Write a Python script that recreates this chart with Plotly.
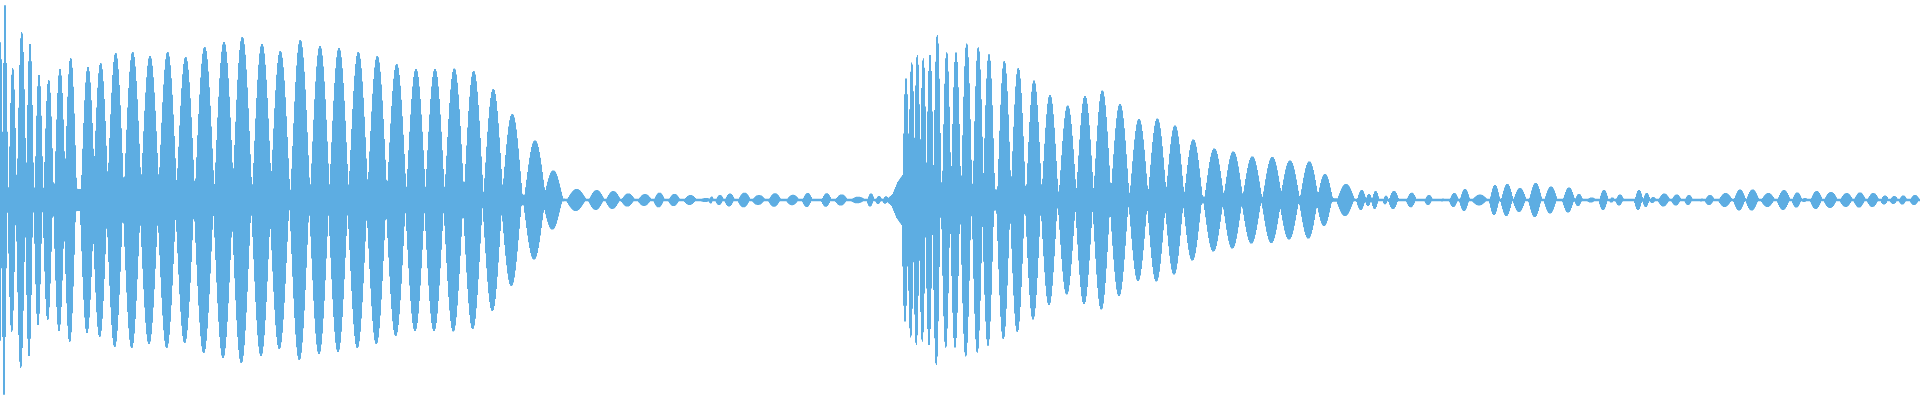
import numpy as np
import plotly.graph_objects as go

# ---- data (time in display columns, amplitude in 1/200 full scale) ----
lobe_time = [
    0.5, 5, 5, 12.7, 21.7, 30, 39, 48.7, 60, 70.7, 88, 100.7, 115.7, 132.7, 150, 167.7,
    185.7, 204.7, 224, 242.3, 262, 280.3, 300.3, 320, 339, 358.3, 377.3, 396.7, 416,
    435, 454.3, 473.7, 493.3, 512.3, 535, 553.3, 576.7, 596.7, 613.3, 628.3, 645,
    659.5, 674.5, 690.5, 706, 711.7, 720, 730, 744.5, 759, 775, 793, 807.7, 826.7,
    841.7, 858.3, 871, 879, 886,
    906, 911.7, 917.3, 923.3, 930, 937.3, 946.7, 956, 966.7, 978.3, 989, 1004.3,
    1018.3, 1034, 1050, 1067.7, 1085, 1102.3, 1120, 1139, 1157.3, 1175, 1193.3,
    1214.3, 1233.3, 1252.3, 1272.3, 1290, 1309.3, 1325, 1346, 1361.7, 1369, 1375.7,
    1386, 1394, 1411.7, 1429, 1443, 1454.3, 1465, 1480, 1495, 1507.3, 1520, 1535.7,
    1551, 1569, 1579, 1591.7, 1604, 1612.3, 1620, 1639, 1646.7, 1653.3, 1664.3,
    1676.7, 1689, 1702.3, 1710, 1725.7, 1740, 1752.7, 1768.3, 1784, 1797.3, 1805,
    1816.7, 1831, 1846.7, 1860, 1873.3, 1885, 1894.3, 1903.3, 1915,
]
lobe_peak = [
    158, 166, 196, 132, 168, 156, 125, 120, 131, 142, 133, 137, 147, 148, 144, 148,
    143, 153, 158, 163, 156, 149, 160, 154, 152, 148, 144, 136, 131,
    131, 131.5, 129, 111, 86, 59.5, 29.5, 11, 10, 9, 6.5, 6,
    7.3, 6, 5, 2, 3.5, 5, 6.5, 7.3, 5, 6.7, 5.3, 7, 6.7,
    5.5, 3.3, 6.5, 4, 3.7,
    121.5, 137.5, 145, 141.7, 145, 165, 147.7, 147.5, 156.5, 152.7, 145.8, 139,
    132, 119.5, 105, 94.5, 104, 109.5, 96, 81, 81.5, 74.5, 60.5,
    51.5, 48.5, 43.5, 43, 39.5, 38.5, 26, 16, 10, 6, 9,
    4.3, 9, 7.3, 5, 1.5, 7, 11, 5.5, 15, 16, 12, 17,
    13.5, 12.5, 6, 2.5, 10, 2.5, 5.5, 10, 7, 3, 6.5,
    5.5, 5, 1.5, 5, 7, 10.5, 10.5, 7, 10, 7.5, 2,
    9, 8, 7, 7.5, 7, 4.5, 4, 4.5, 5,
]
lobe_halfwidth = [
    2.0, 3.0, 0.8, 4.0, 4.7, 3.8, 4.2, 5.0, 5.7, 6.2, 7.2, 7.7, 8.5, 9, 9.5, 9.5,
    9.5, 10, 10, 10, 10, 10, 10, 10, 10, 10, 10, 10, 10,
    10, 10, 10, 10, 10.5, 11, 10, 10, 8, 7.5, 7, 7,
    5.5, 6, 6.5, 8, 2, 4, 5, 6.5, 7, 6.5, 6.5, 5, 5,
    6.5, 8, 3.5, 3, 3,
    3.5, 3.5, 3.5, 3.5, 3.8, 4, 4.5, 5, 5.5, 5.5, 6, 7,
    7.5, 8, 8.5, 9, 9, 9, 9.5, 9.5, 9.5, 9.5, 9.5,
    10, 10, 10, 10, 10, 9.5, 8, 9, 4.5, 3, 3.5,
    2.5, 5, 5, 4, 3, 4.5, 5, 8, 5, 6, 6.5, 6.5,
    6.5, 6, 4, 5, 4.5, 2.5, 4, 4, 3.5, 3, 6,
    5, 4, 3, 5, 7, 6, 6.5, 7, 6.5, 5, 3,
    6, 7, 6.5, 6, 6, 4, 4, 4, 5,
]
# level of the band between lobes
floor_time = [0, 60, 120, 200, 500, 525, 545, 565, 888, 893, 898, 903, 910, 980, 1000,
              1100, 1150, 1200, 1320, 1340, 1920]
floor_level = [13, 12, 9, 8, 8, 5, 3, 1.3, 1.3, 6, 18, 25, 19, 16, 9,
               8, 6.5, 3.5, 3, 1.3, 1.3]

# ---- build per-column peak envelope ----
n_cols = 1920
fine = np.arange(0, n_cols, 0.1) + 0.05
env = np.interp(fine, floor_time, floor_level)
for c, a, w in zip(lobe_time, lobe_peak, lobe_halfwidth):
    u = (fine - c) / w
    m = np.abs(u) < 1
    val = np.zeros_like(fine)
    val[m] = a * np.cos(np.pi / 2 * u[m]) ** 1.2
    env = np.maximum(env, val)
col_peak = env.reshape(n_cols, 10).max(axis=1)

edges = np.arange(n_cols + 1)
xs = np.concatenate([edges, edges[::-1]])
top = np.append(col_peak, col_peak[-1])
ys = np.concatenate([top, -top[::-1]])

color = "#5dade2"
fig = go.Figure(go.Scatter(
    x=xs, y=ys, mode="lines", line=dict(width=0, color=color, shape="hv"),
    fill="toself", fillcolor=color, hoverinfo="skip", showlegend=False,
))
fig.update_layout(
    width=1920, height=400, margin=dict(l=0, r=0, t=0, b=0),
    paper_bgcolor="white", plot_bgcolor="white",
    xaxis=dict(visible=False, range=[0, 1920], fixedrange=True),
    yaxis=dict(visible=False, range=[-200, 200], fixedrange=True),
)
fig.write_html("out.html", config={"displayModeBar": False},
               post_script="document.body.style.margin='0';document.body.style.overflow='hidden';")
